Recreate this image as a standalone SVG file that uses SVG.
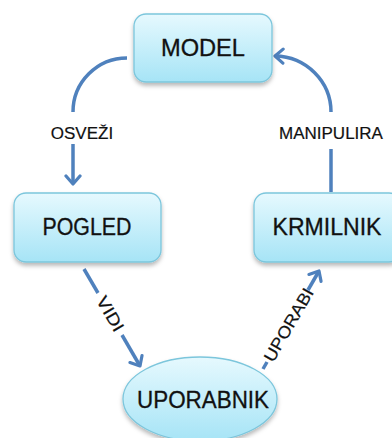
<svg xmlns="http://www.w3.org/2000/svg" width="392" height="438" viewBox="0 0 392 438">
<defs>
<linearGradient id="g" x1="0" y1="0" x2="0" y2="1">
<stop offset="0" stop-color="#e6f9fe"/>
<stop offset="1" stop-color="#a6e4f6"/>
</linearGradient>
<filter id="sh" x="-20%" y="-20%" width="140%" height="150%">
<feDropShadow dx="0" dy="3" stdDeviation="2" flood-color="#000" flood-opacity="0.28"/>
</filter>
<marker id="ah" markerUnits="userSpaceOnUse" markerWidth="18" markerHeight="18" viewBox="0 0 18 18" refX="15" refY="9" orient="auto">
<path d="M7,2 L15,9 L7,16" fill="none" stroke="#4f81bd" stroke-width="3.2" stroke-linecap="round" stroke-linejoin="round"/>
</marker>
</defs>
<style>
.n{fill:url(#g);stroke:#7cc6dc;stroke-width:1.3;filter:url(#sh)}
.t{font-family:"Liberation Sans",Arial,sans-serif;font-size:23px;fill:#111;text-anchor:middle;stroke:#111;stroke-width:0.3}
.l{font-family:"Liberation Sans",Arial,sans-serif;font-size:17px;fill:#111;text-anchor:middle;stroke:#111;stroke-width:0.2}
.c{fill:none;stroke:#4f81bd;stroke-width:3.5;stroke-linecap:butt}
</style>
<rect width="392" height="438" fill="#fff"/>
<g id="connectors">
<path class="c" d="M127,58 A54,54 0 0 0 73,112"/>
<path class="c" d="M73,144 L73,184" marker-end="url(#ah)"/>
<path class="c" d="M331,192 L331,149"/>
<path class="c" d="M331,112 A57,56 0 0 0 275,56" marker-end="url(#ah)"/>
<path class="c" d="M84,269 L98,293"/>
<path class="c" d="M122,335 L140,366" marker-end="url(#ah)"/>
<path class="c" d="M263,369 L267,362"/>
<path class="c" d="M308,290 L319,271" marker-end="url(#ah)"/>
<text class="l" x="82" y="139">OSVEŽI</text>
<text class="l" x="331" y="139">MANIPULIRA</text>
<text class="l" transform="translate(110,314) rotate(60)" dominant-baseline="central" textLength="38" lengthAdjust="spacingAndGlyphs">VIDI</text>
<text class="l" transform="translate(289,325) rotate(-60)" dominant-baseline="central" textLength="82" lengthAdjust="spacingAndGlyphs">UPORABI</text>
</g>
<g id="model">
<rect class="n" x="134" y="14" width="138" height="68" rx="12"/>
<text class="t" x="203" y="56" textLength="84" lengthAdjust="spacingAndGlyphs">MODEL</text>
</g>
<g id="pogled">
<rect class="n" x="14" y="193" width="147" height="69" rx="12"/>
<text class="t" x="87" y="235" textLength="89" lengthAdjust="spacingAndGlyphs">POGLED</text>
</g>
<g id="krmilnik">
<rect class="n" x="254" y="193" width="147" height="69" rx="12"/>
<text class="t" x="327" y="235" textLength="109" lengthAdjust="spacingAndGlyphs">KRMILNIK</text>
</g>
<g id="uporabnik">
<ellipse class="n" cx="200" cy="399" rx="77" ry="42"/>
<text class="t" x="203" y="408" textLength="132" lengthAdjust="spacingAndGlyphs">UPORABNIK</text>
</g>
</svg>
